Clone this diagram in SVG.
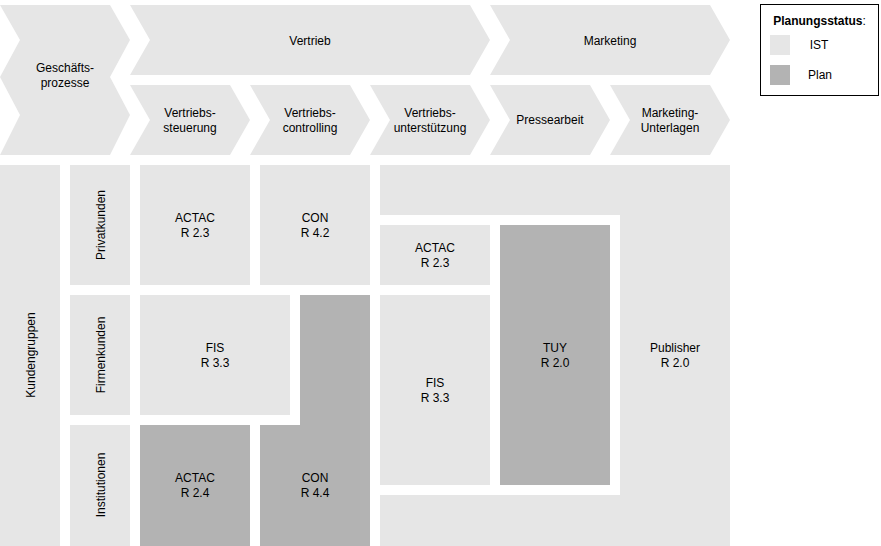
<svg xmlns="http://www.w3.org/2000/svg" width="881" height="546" viewBox="0 0 881 546">
<style>
.ist{fill:#e6e6e6}
.plan{fill:#b3b3b3}
text{font-family:"Liberation Sans",Arial,sans-serif;font-size:12px;fill:#000;text-anchor:middle}
.b{font-weight:bold}
</style>
<rect width="881" height="546" fill="#fff"/>
<g id="prozesse">
<g id="geschaeftsprozesse"><polygon class="ist" points="0,5 110,5 130,40 110,77 130,115 110,155 0,155 20,115 0,77 20,40"/><text x="65" y="72">Geschäfts-</text><text x="65" y="87">prozesse</text></g>
<g id="vertrieb"><polygon class="ist" points="130,5 470,5 490,40 470,75 130,75 150,40"/><text x="310" y="45">Vertrieb</text></g>
<g id="marketing"><polygon class="ist" points="490,5 710,5 730,40 710,75 490,75 510,40"/><text x="610" y="45">Marketing</text></g>
<g id="vertriebssteuerung"><polygon class="ist" points="130,85 230,85 250,120 230,155 130,155 150,120"/><text x="190" y="117">Vertriebs-</text><text x="190" y="132">steuerung</text></g>
<g id="vertriebscontrolling"><polygon class="ist" points="250,85 350,85 370,120 350,155 250,155 270,120"/><text x="310" y="117">Vertriebs-</text><text x="310" y="132">controlling</text></g>
<g id="vertriebsunterstuetzung"><polygon class="ist" points="370,85 470,85 490,120 470,155 370,155 390,120"/><text x="430" y="117">Vertriebs-</text><text x="430" y="132">unterstützung</text></g>
<g id="pressearbeit"><polygon class="ist" points="490,85 590,85 610,120 590,155 490,155 510,120"/><text x="550" y="124">Pressearbeit</text></g>
<g id="marketing-unterlagen"><polygon class="ist" points="610,85 710,85 730,120 710,155 610,155 630,120"/><text x="670" y="117">Marketing-</text><text x="670" y="132">Unterlagen</text></g>
</g>
<g id="legende">
<rect x="760.5" y="4.5" width="118" height="91" fill="#fff" stroke="#000" stroke-width="1"/>
<text x="819.5" y="25"><tspan class="b">Planungsstatus</tspan>:</text>
<rect class="ist" x="770" y="35" width="20" height="20"/><text x="819" y="49">IST</text>
<rect class="plan" x="770" y="65" width="20" height="20"/><text x="820" y="79">Plan</text>
</g>
<g id="kundengruppen"><rect class="ist" x="0" y="165" width="60" height="381"/><text transform="translate(34.5,355) rotate(-90)">Kundengruppen</text></g>
<g id="privatkunden"><rect class="ist" x="70" y="165" width="60" height="120"/><text transform="translate(104.5,225) rotate(-90)">Privatkunden</text></g>
<g id="firmenkunden"><rect class="ist" x="70" y="295" width="60" height="120"/><text transform="translate(104.5,355) rotate(-90)">Firmenkunden</text></g>
<g id="institutionen"><rect class="ist" x="70" y="425" width="60" height="121"/><text transform="translate(104.5,485) rotate(-90)">Institutionen</text></g>
<g id="actac-r23-privat"><rect class="ist" x="140" y="165" width="110" height="120"/><text x="195" y="222">ACTAC</text><text x="195" y="237">R 2.3</text></g>
<g id="con-r42"><rect class="ist" x="260" y="165" width="110" height="120"/><text x="315" y="222">CON</text><text x="315" y="237">R 4.2</text></g>
<g id="fis-r33-firmen"><rect class="ist" x="140" y="295" width="150" height="120"/><text x="215" y="352">FIS</text><text x="215" y="367">R 3.3</text></g>
<g id="actac-r24"><rect class="plan" x="140" y="425" width="110" height="121"/><text x="195" y="482">ACTAC</text><text x="195" y="497">R 2.4</text></g>
<g id="con-r44"><polygon class="plan" points="300,295 370,295 370,546 260,546 260,425 300,425"/><text x="315" y="482">CON</text><text x="315" y="497">R 4.4</text></g>
<g id="publisher"><polygon class="ist" points="380,165 730,165 730,546 380,546 380,495 620,495 620,215 380,215"/><text x="675" y="352">Publisher</text><text x="675" y="367">R 2.0</text></g>
<g id="actac-r23-marketing"><rect class="ist" x="380" y="225" width="110" height="60"/><text x="435" y="252">ACTAC</text><text x="435" y="267">R 2.3</text></g>
<g id="fis-r33-marketing"><rect class="ist" x="380" y="295" width="110" height="190"/><text x="435" y="387">FIS</text><text x="435" y="402">R 3.3</text></g>
<g id="tuy-r20"><rect class="plan" x="500" y="225" width="110" height="260"/><text x="555" y="352">TUY</text><text x="555" y="367">R 2.0</text></g>
<g id="connectors"/>
</svg>
